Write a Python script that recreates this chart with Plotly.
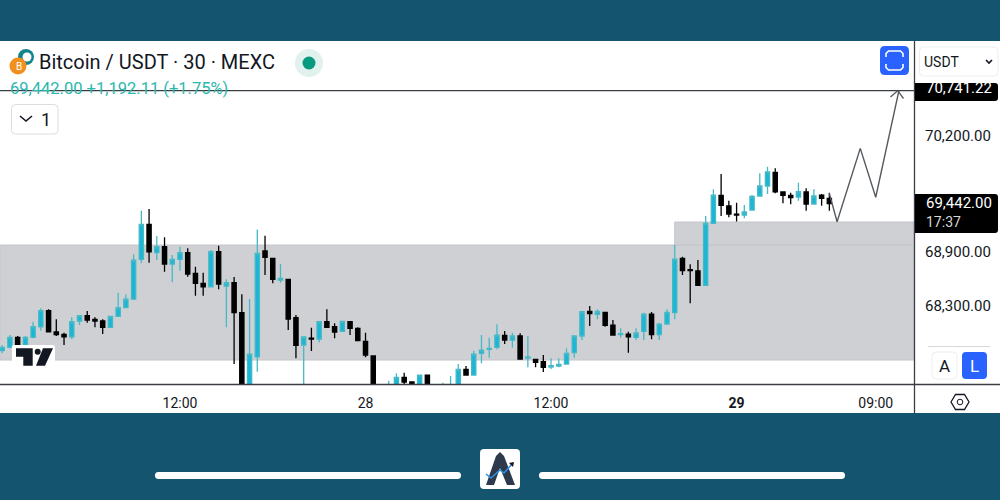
import pandas as pd
import plotly.graph_objects as go

W, H = 1000, 500
BAND = "#14546e"
UP = "#1bb6d6"
UP_WICK = "#45b9c6"
DOWN = "#000000"
ZONE = "#cfd0d4"
BLUE = "#2962ff"
FONT = "Roboto"

# 30 minute candles, first one at 00:30 on the 27th
opens = [67795, 67832, 67944, 67858, 67944, 68063, 68243, 68004, 67978, 67951, 68127, 68187,
         68146, 68127, 68056, 68179, 68276, 68373, 68818, 69209, 68892, 68959, 68765, 68818,
         68892, 68661, 68549, 68511, 68903, 68519, 68556, 68220, 67300, 67727, 68911, 68829,
         68586, 68594, 68164, 67858, 67936, 67925, 68119, 68063, 68011, 68119, 68045, 67899,
         67735, 67350, 67340, 67400, 67496, 67444, 67380, 67522, 67370, 67360, 67400, 67415,
         67586, 67522, 67765, 67810, 67832, 67966, 67914, 67959, 67713, 67698, 67671, 67612,
         67623, 67645, 67772, 67959, 68235, 68202, 68224, 68082, 67974, 67981, 67944, 68011,
         68205, 67974, 68093, 68220, 68829, 68702, 68687, 68526, 69221, 69534, 69415, 69325,
         69314, 69370, 69527, 69639, 69792, 69572, 69534, 69516, 69572, 69437, 69538, 69501]
highs = [67858, 67970, 67959, 67959, 68119, 68269, 68258, 68146, 67996, 68168, 68194, 68239,
         68168, 68146, 68187, 68444, 68426, 68874, 69363, 69381, 69079, 69064, 68866, 68959,
         68941, 68735, 68668, 68922, 68971, 68594, 68620, 68426, 68373, 69153, 69083, 68829,
         68765, 68600, 68194, 67952, 68052, 68127, 68258, 68101, 68127, 68127, 68056, 67996,
         67740, 67400, 67459, 67541, 67548, 67450, 67525, 67525, 67410, 67436, 67511, 67645,
         67623, 67795, 67970, 67940, 68090, 68015, 67996, 67989, 67959, 67700, 67746, 67709,
         67709, 67821, 67959, 68231, 68295, 68258, 68228, 68138, 68045, 68007, 68045, 68220,
         68228, 68108, 68258, 68978, 68847, 68762, 68810, 69303, 69602, 69773, 69475, 69452,
         69426, 69538, 69781, 69855, 69837, 69575, 69564, 69676, 69613, 69602, 69549, 69564]
lows = [67765, 67821, 67847, 67847, 67933, 68019, 68000, 67959, 67858, 67922, 68082, 68108,
        68056, 67981, 68048, 68175, 68269, 68362, 68773, 68780, 68810, 68679, 68560, 68691,
        68623, 68411, 68411, 68504, 68482, 68056, 67645, 67300, 67300, 67559, 68642, 68549,
        68556, 68026, 67709, 67300, 67791, 67888, 68052, 67933, 68004, 67970, 67903, 67720,
        67300, 67300, 67300, 67380, 67400, 67340, 67360, 67350, 67340, 67350, 67380, 67400,
        67515, 67515, 67653, 67716, 67810, 67869, 67828, 67701, 67608, 67608, 67556, 67589,
        67608, 67638, 67716, 67914, 68071, 68146, 68063, 67965, 67940, 67772, 67914, 67914,
        67922, 67914, 68086, 68146, 68642, 68325, 68523, 68519, 69213, 69303, 69288, 69243,
        69277, 69363, 69519, 69549, 69557, 69445, 69434, 69475, 69363, 69434, 69419, 69363]
closes = [67832, 67944, 67858, 67944, 68063, 68243, 68007, 67974, 67951, 68119, 68187, 68138,
          68127, 68056, 68179, 68276, 68373, 68810, 69209, 68903, 68959, 68765, 68818, 68892,
          68653, 68549, 68511, 68903, 68541, 68556, 68220, 67300, 67757, 68885, 68840, 68594,
          68605, 68149, 67854, 67948, 67925, 68119, 68056, 68004, 68123, 68045, 67907, 67746,
          67300, 67320, 67400, 67496, 67444, 67380, 67522, 67370, 67360, 67400, 67415, 67586,
          67522, 67757, 67802, 67821, 67970, 67914, 67959, 67701, 67724, 67664, 67608, 67627,
          67642, 67765, 67959, 68231, 68209, 68235, 68078, 67970, 67985, 67951, 67993, 68205,
          67974, 68093, 68224, 68821, 68691, 68691, 68526, 69221, 69538, 69422, 69325, 69314,
          69348, 69523, 69639, 69796, 69575, 69534, 69508, 69575, 69437, 69527, 69501, 69442]

# drawn projection after the last candle
path_times = ["2024-03-29 06:00", "2024-03-29 06:30", "2024-03-29 08:00", "2024-03-29 09:00", "2024-03-29 10:30"]
path_prices = [69557, 69239, 70061, 69513, 70707]

tick_times = ["2024-03-27 12:00", "2024-03-28 00:00", "2024-03-28 12:00", "2024-03-29 00:00", "2024-03-29 09:00"]
tick_labels = ["12:00", "28", "12:00", "<b>29</b>", "09:00"]
price_ticks = [70200, 68900, 68300]
price_labels = ["70,200.00", "68,900.00", "68,300.00"]
target_price = 70707

x_start, x_end = "2024-03-27 00:21:30", "2024-03-29 11:28:30"
y_bottom, y_top = 67421.6, 71263.2
zone_low, zone_high = 67690, 68978
zone2_start, zone2_high = "2024-03-28 20:00", 69236

times = pd.date_range("2024-03-27 00:30", periods=len(opens), freq="30min")


def px(x):
    return x / W


def py(y):
    return 1 - y / H


def rect(x0, y0, x1, y1, fill, line=None, layer="above"):
    return dict(type="rect", xref="paper", yref="paper", x0=px(x0), x1=px(x1), y0=py(y0), y1=py(y1),
                fillcolor=fill, line=dict(color=line or fill, width=1 if line else 0), layer=layer)


def rounded(x0, y0, x1, y1, r, fill, line=None, width=1):
    xa, xb, ya, yb = px(x0), px(x1), py(y0), py(y1)
    rx, ry = r / W, r / H
    p = (f"M {xa+rx} {ya} L {xb-rx} {ya} Q {xb} {ya} {xb} {ya-ry} L {xb} {yb+ry} Q {xb} {yb} {xb-rx} {yb} "
         f"L {xa+rx} {yb} Q {xa} {yb} {xa} {yb+ry} L {xa} {ya-ry} Q {xa} {ya} {xa+rx} {ya} Z")
    return dict(type="path", xref="paper", yref="paper", path=p, fillcolor=fill,
                line=dict(color=line or fill, width=width if line else 0), layer="above")


def poly(points, fill=None, line=None, width=1.5, close=False):
    p = "M " + " L ".join(f"{px(x)} {py(y)}" for x, y in points) + (" Z" if close else "")
    return dict(type="path", xref="paper", yref="paper", path=p,
                fillcolor=fill or "rgba(0,0,0,0)",
                line=dict(color=line or "rgba(0,0,0,0)", width=width if line else 0), layer="above")


def circle(cx, cy, r, fill, line=None):
    return dict(type="circle", xref="paper", yref="paper", x0=px(cx - r), x1=px(cx + r), y0=py(cy + r), y1=py(cy - r),
                fillcolor=fill, line=dict(color=line or fill, width=1 if line else 0), layer="above")


def label(x, y, text, size=14, color="#131722", anchor="left", bold=False):
    return dict(xref="paper", yref="paper", x=px(x), y=py(y), text=f"<b>{text}</b>" if bold else text,
                showarrow=False, xanchor=anchor, yanchor="middle", xshift=0, yshift=0,
                font=dict(family=FONT, size=size, color=color))


fig = go.Figure()
fig.add_trace(go.Candlestick(
    x=times, open=opens, high=highs, low=lows, close=closes,
    increasing=dict(fillcolor=UP, line=dict(color=UP_WICK, width=1.3)),
    decreasing=dict(fillcolor=DOWN, line=dict(color=DOWN, width=1.3)),
    whiskerwidth=0, showlegend=False, hoverinfo="skip",
))
fig.add_trace(go.Scatter(
    x=path_times, y=path_prices, mode="lines", line=dict(color="#555a60", width=1.4),
    showlegend=False, hoverinfo="skip",
))

shapes = [
    rect(0, 41, W, 413, "#ffffff", layer="below"),
    dict(type="rect", xref="x", yref="y", x0=x_start, x1=x_end, y0=zone_low, y1=zone_high,
         fillcolor=ZONE, line=dict(color="#c4c5c9", width=1), layer="below"),
    dict(type="rect", xref="x", yref="y", x0=zone2_start, x1=x_end, y0=zone_high, y1=zone2_high,
         fillcolor=ZONE, line=dict(color="#c4c5c9", width=1), layer="below"),
    dict(type="line", xref="x", yref="y", x0=x_start, x1=x_end, y0=target_price, y1=target_price,
         line=dict(color="#3a3d42", width=1.2), layer="above"),
    # axis frame
    poly([(0, 384.5), (W, 384.5)], line="#3a3d42", width=1.3),
    poly([(914.5, 41), (914.5, 413)], line="#3a3d42", width=1.3),
    # arrow head
    poly([(890.5, 97), (897.7, 90.7), (903.5, 98.5)], line="#555a60", width=1.3),
    # price tags
    rect(915, 83, 990, 101, "#000000"),
    rounded(980, 83, 998, 101, 3, "#000000"),
    rect(915, 194, 990, 233, "#000000"),
    rounded(980, 194, 998, 233, 3, "#000000"),
    # tradingview mark
    rounded(12, 345, 55, 368, 2, "#ffffff"),
    poly([(16, 348.3), (32.7, 348.3), (32.7, 365.7), (23.3, 365.7), (23.3, 356.7), (16, 356.7)], fill="#131722", close=True),
    circle(37.7, 351.7, 3, "#131722"),
    poly([(53, 348.3), (43, 348.3), (36, 365.7), (45, 365.7)], fill="#131722", close=True),
    # header icons
    circle(26, 57, 8, "#14848c"),
    circle(27, 57, 4.5, "#ffffff"),
    circle(18, 66, 8.5, "#f0901e"),
    circle(309, 63, 14, "#e0f1ee"),
    circle(309, 63, 6.5, "#089981"),
    rounded(11.5, 104.5, 58, 134, 4, "#ffffff", "#dcdde0"),
    poly([(20, 116), (26, 121), (32, 116)], line="#131722", width=1.6),
    # expand button
    rounded(880, 46, 909, 75, 5, BLUE),
    poly([(886, 57), (886, 53.5), (888.5, 51), (900.5, 51), (903, 53.5), (903, 57)], line="#ffffff", width=1.6),
    poly([(886, 64), (886, 67.5), (888.5, 70), (900.5, 70), (903, 67.5), (903, 64)], line="#ffffff", width=1.6),
    # currency select
    rounded(919.5, 47, 998, 76, 4, "#ffffff", "#eeeef0"),
    poly([(986, 60), (989, 63), (992, 60)], line="#131722", width=1.6),
    # A / L buttons
    rounded(932, 352, 957, 379, 4, "#ffffff", "#eeeef0"),
    rounded(962, 352, 987, 379, 4, BLUE),
    poly([(928, 346.5), (990, 346.5)], line="#d8d9dc", width=1),
    # settings hexagon
    poly([(951, 402), (955.5, 394.5), (964.5, 394.5), (969, 402), (964.5, 409.5), (955.5, 409.5)], line="#131722", width=1.3, close=True),
    circle(960, 402, 2.8, "#ffffff", "#131722"),
    # bottom bar
    rounded(155, 472, 461, 479, 3.4, "#ffffff"),
    rounded(539, 472, 845, 479, 3.4, "#ffffff"),
    rounded(480, 449, 520, 489, 4, "#ffffff"),
    poly([(486, 485), (496, 456), (500, 452), (504, 456), (515, 485), (507, 485), (500, 468), (494, 485)], fill="#2d3a4c", close=True),
    poly([(486, 474), (491, 478), (500, 470), (504, 473), (512, 464)], line="#2f8fe0", width=1.5),
    poly([(509, 463), (514, 462), (513, 467)], fill="#131722", close=True),
]

annotations = [
    label(37, 62, "Bitcoin / USDT · 30 · MEXC", size=20),
    label(8, 89, "69,442.00 +1,192.11 (+1.75%)", size=16.5, color="#2bb8ad"),
    label(39, 119, "1", size=18),
    label(13.5, 66.5, "B", size=10, color="#ffffff"),
    label(922, 62, "USDT", size=14),
    label(924, 88, "70,741.22", size=15, color="#ffffff"),
    label(924, 203, "69,442.00", size=15, color="#ffffff"),
    label(924, 222, "17:37", size=14, color="#d8d8d8"),
    label(944.5, 366, "A", size=17, anchor="center"),
    label(974.5, 366, "L", size=17, color="#ffffff", anchor="center"),
]

fig.update_layout(
    width=W, height=H, margin=dict(l=0, r=0, t=0, b=0),
    paper_bgcolor=BAND, plot_bgcolor="rgba(0,0,0,0)",
    font=dict(family=FONT, color="#131722"),
    shapes=shapes, annotations=annotations, showlegend=False, hovermode=False, boxgap=0.22,
    xaxis=dict(domain=[0, 0.914], range=[x_start, x_end], rangeslider=dict(visible=False),
               showgrid=False, zeroline=False, showline=False,
               tickmode="array", tickvals=tick_times, ticktext=tick_labels,
               ticks="", ticklabelstandoff=9, tickfont=dict(size=14, color="#131722")),
    yaxis=dict(domain=[0.232, 0.918], range=[y_bottom, y_top], side="right", anchor="x",
               showgrid=False, zeroline=False, showline=False,
               tickmode="array", tickvals=price_ticks, ticktext=price_labels,
               ticks="", ticklabelstandoff=10, tickfont=dict(size=15, color="#131722")),
)

fig.write_html("out.html", config={"displayModeBar": False},
               post_script="document.body.style.margin='0';")
